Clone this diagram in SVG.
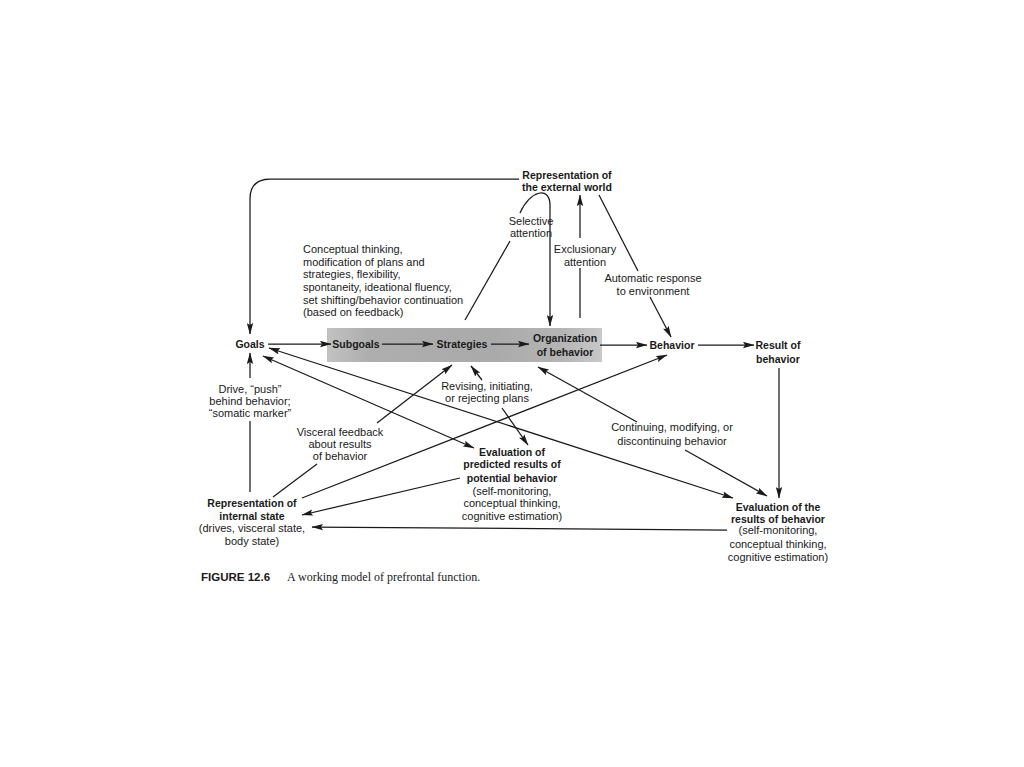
<svg xmlns="http://www.w3.org/2000/svg" width="1024" height="767" viewBox="0 0 1024 767">
<defs>
<marker id="ah" markerUnits="userSpaceOnUse" markerWidth="12" markerHeight="7" refX="11" refY="3.5" orient="auto-start-reverse" viewBox="0 0 12 7">
<path d="M0,0.3 L11.5,3.5 L0,6.7 L2,3.5 z" fill="#1a1a1a"/>
</marker>
<linearGradient id="band" x1="0" y1="0" x2="1" y2="0">
<stop offset="0" stop-color="#c4c4c4"/>
<stop offset="0.15" stop-color="#ababab"/>
<stop offset="0.6" stop-color="#a6a6a6"/>
<stop offset="0.85" stop-color="#b3b3b3"/>
<stop offset="1" stop-color="#cbcbcb"/>
</linearGradient>
<filter id="grain" x="0" y="0" width="1" height="1">
<feTurbulence type="fractalNoise" baseFrequency="0.9" numOctaves="2" seed="3" result="n"/>
<feColorMatrix in="n" type="matrix" values="0 0 0 0 0.5  0 0 0 0 0.5  0 0 0 0 0.5  0 0 0 0.35 0" result="g"/>
<feComposite in="g" in2="SourceGraphic" operator="in" result="gc"/>
<feMerge><feMergeNode in="SourceGraphic"/><feMergeNode in="gc"/></feMerge>
</filter>
<style>
text{font-family:"Liberation Sans",Arial,sans-serif;fill:#1a1a1a;font-size:11px}
.b{font-weight:bold;font-size:10.5px}
.c{text-anchor:middle}
.ln{fill:none;stroke:#1a1a1a;stroke-width:1.25}
.ar{marker-end:url(#ah)}
.ar2{marker-start:url(#ah);marker-end:url(#ah)}
</style>
</defs>
<rect width="1024" height="767" fill="#ffffff"/>
<rect id="band-bg" x="327" y="328" width="275" height="34" fill="url(#band)" filter="url(#grain)"/>

<g id="connectors">
<path class="ln ar" d="M519,179 L270,179 Q250,179 250,199 L250,334"/>
<path class="ln ar" d="M268,344 L331,344"/>
<path class="ln ar" d="M382,344 L433,344"/>
<path class="ln ar" d="M491,344 L529,344"/>
<path class="ln ar" d="M600,345 L647,345"/>
<path class="ln ar" d="M698,345 L754,345"/>
<path class="ln ar" d="M779,368 L779,498"/>
<path class="ln" d="M465,320 L510,241"/>
<path class="ln ar" d="M520,213 C530,190 550,186 550,205 L550,326"/>
<path class="ln" d="M580,318 L580,268"/>
<path class="ln ar" d="M580,238 L580,195"/>
<path class="ln" d="M599,195 L638,271"/>
<path class="ln ar" d="M650,297 L671,337"/>
<path class="ln ar" d="M250,378 L250,353"/>
<path class="ln" d="M250,421 L250,492"/>
<path class="ln ar2" d="M263,356 L474,448"/>
<path class="ln ar2" d="M269,348 L733,498"/>
<path class="ln" d="M273,497 L317,464"/>
<path class="ln ar" d="M377,423 L452,365"/>
<path class="ln ar" d="M302,498 L667,355"/>
<path class="ln ar" d="M482,380 L471,366"/>
<path class="ln ar" d="M502,408 L528,445"/>
<path class="ln ar" d="M460,478 L302,515"/>
<path class="ln ar" d="M727,530 L312,527"/>
<path class="ln ar" d="M637,422 L538,367"/>
<path class="ln ar" d="M685,450 L767,496"/>
</g>

<g id="rep-external"><text class="b c" x="567" y="179">Representation of</text><text class="b c" x="567" y="191">the external world</text></g>
<g id="goals"><text class="b c" x="250" y="348">Goals</text></g>
<g id="subgoals"><text class="b c" x="356" y="348">Subgoals</text></g>
<g id="strategies"><text class="b c" x="462" y="348">Strategies</text></g>
<g id="organization"><text class="b c" x="565" y="342">Organization</text><text class="b c" x="565" y="356">of behavior</text></g>
<g id="behavior"><text class="b c" x="672" y="349">Behavior</text></g>
<g id="result"><text class="b c" x="778" y="349">Result of</text><text class="b c" x="778" y="363">behavior</text></g>
<g id="eval-results"><text class="b c" x="778" y="511">Evaluation of the</text><text class="b c" x="778" y="523">results of behavior</text><text class="c" x="778" y="534">(self-monitoring,</text><text class="c" x="778" y="548">conceptual thinking,</text><text class="c" x="778" y="561">cognitive estimation)</text></g>
<g id="eval-predicted"><text class="b c" x="512" y="456">Evaluation of</text><text class="b c" x="512" y="468">predicted results of</text><text class="b c" x="512" y="482">potential behavior</text><text class="c" x="512" y="495">(self-monitoring,</text><text class="c" x="512" y="507">conceptual thinking,</text><text class="c" x="512" y="520">cognitive estimation)</text></g>
<g id="rep-internal"><text class="b c" x="252" y="507">Representation of</text><text class="b c" x="252" y="520">internal state</text><text class="c" x="252" y="532">(drives, visceral state,</text><text class="c" x="252" y="545">body state)</text></g>

<g id="labels">
<text x="303" y="253">Conceptual thinking,</text>
<text x="303" y="266">modification of plans and</text>
<text x="303" y="278">strategies, flexibility,</text>
<text x="303" y="291">spontaneity, ideational fluency,</text>
<text x="303" y="304">set shifting/behavior continuation</text>
<text x="303" y="316">(based on feedback)</text>
<text class="c" x="531" y="225">Selective</text>
<text class="c" x="531" y="237">attention</text>
<text class="c" x="585" y="253">Exclusionary</text>
<text class="c" x="585" y="266">attention</text>
<text class="c" x="653" y="282">Automatic response</text>
<text class="c" x="653" y="295">to environment</text>
<text class="c" x="250" y="393">Drive, “push”</text>
<text class="c" x="250" y="405">behind behavior;</text>
<text class="c" x="250" y="417">“somatic marker”</text>
<text class="c" x="487" y="390">Revising, initiating,</text>
<text class="c" x="487" y="402">or rejecting plans</text>
<text class="c" x="340" y="436">Visceral feedback</text>
<text class="c" x="340" y="448">about results</text>
<text class="c" x="340" y="460">of behavior</text>
<text class="c" x="672" y="431">Continuing, modifying, or</text>
<text class="c" x="672" y="445">discontinuing behavior</text>
</g>

<g id="caption">
<text x="201" y="581" style="font-weight:bold;font-size:11.5px">FIGURE 12.6</text>
<text x="287" y="581" style="font-family:'Liberation Serif','Times New Roman',serif;font-size:12px">A working model of prefrontal function.</text>
</g>
</svg>
